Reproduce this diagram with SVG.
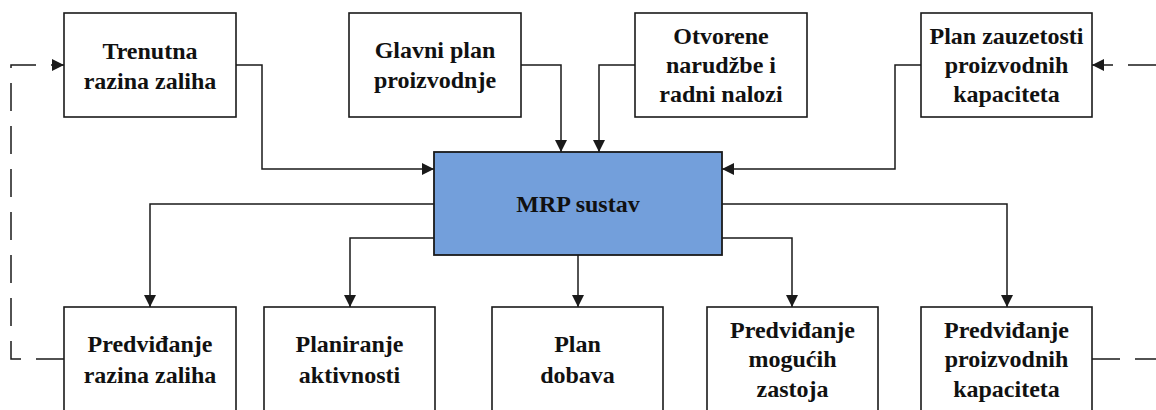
<svg xmlns="http://www.w3.org/2000/svg" width="1156" height="410" viewBox="0 0 1156 410">
<style>
.box{fill:#fff;stroke:#1a1a1a;stroke-width:1.6}
.core{fill:#739fdb;stroke:#1a1a1a;stroke-width:1.8}
.t{font-family:"Liberation Serif","Times New Roman",serif;font-weight:bold;font-size:24px;fill:#111;text-anchor:middle}
.c{fill:none;stroke:#1a1a1a;stroke-width:1.5}
.d{fill:none;stroke:#1a1a1a;stroke-width:1.5;stroke-dasharray:28 15}
</style>
<defs>
<marker id="ah" markerUnits="userSpaceOnUse" markerWidth="12" markerHeight="12" refX="12" refY="6" orient="auto">
<path d="M0,0 L12,6 L0,12 z" fill="#1a1a1a"/>
</marker>
</defs>
<rect width="1156" height="410" fill="#fff"/>
<g id="connectors">
<path class="c" d="M236,65 H262 V169 H434" marker-end="url(#ah)"/>
<path class="c" d="M521,65 H561 V152" marker-end="url(#ah)"/>
<path class="c" d="M635,65 H599 V152" marker-end="url(#ah)"/>
<path class="c" d="M921,65 H895 V169 H722" marker-end="url(#ah)"/>
<path class="c" d="M434,204 H150 V307" marker-end="url(#ah)"/>
<path class="c" d="M434,238 H350 V307" marker-end="url(#ah)"/>
<path class="c" d="M578,255 V307" marker-end="url(#ah)"/>
<path class="c" d="M722,238 H792 V307" marker-end="url(#ah)"/>
<path class="c" d="M722,204 H1007 V307" marker-end="url(#ah)"/>
<path class="d" d="M64,359 H11 V65 H64" marker-end="url(#ah)"/>
<path class="d" d="M1156,65 H1092" marker-end="url(#ah)"/>
<path class="d" d="M1092,359 H1156"/>
</g>
<g id="n-trenutna">
<rect class="box" x="64" y="13" width="172" height="104"/>
<text class="t"><tspan x="150" y="59">Trenutna</tspan><tspan x="150" y="89">razina zaliha</tspan></text>
</g>
<g id="n-glavni">
<rect class="box" x="349" y="13" width="172" height="104"/>
<text class="t"><tspan x="435" y="58">Glavni plan</tspan><tspan x="435" y="88">proizvodnje</tspan></text>
</g>
<g id="n-otvorene">
<rect class="box" x="635" y="13" width="172" height="104"/>
<text class="t"><tspan x="721" y="44">Otvorene</tspan><tspan x="721" y="73">narudžbe i</tspan><tspan x="721" y="102">radni nalozi</tspan></text>
</g>
<g id="n-plan-zauzetosti">
<rect class="box" x="921" y="13" width="171" height="104"/>
<text class="t"><tspan x="1006.5" y="44">Plan zauzetosti</tspan><tspan x="1006.5" y="73">proizvodnih</tspan><tspan x="1006.5" y="102">kapaciteta</tspan></text>
</g>
<g id="n-mrp">
<rect class="core" x="434" y="152" width="288" height="103"/>
<text class="t" x="578" y="212">MRP sustav</text>
</g>
<g id="n-pred-zaliha">
<rect class="box" x="64" y="307" width="172" height="120"/>
<text class="t"><tspan x="150" y="352">Predviđanje</tspan><tspan x="150" y="383">razina zaliha</tspan></text>
</g>
<g id="n-planiranje">
<rect class="box" x="264" y="307" width="171" height="120"/>
<text class="t"><tspan x="349.5" y="352">Planiranje</tspan><tspan x="349.5" y="383">aktivnosti</tspan></text>
</g>
<g id="n-plan-dobava">
<rect class="box" x="492" y="307" width="171" height="120"/>
<text class="t"><tspan x="577.5" y="352">Plan</tspan><tspan x="577.5" y="383">dobava</tspan></text>
</g>
<g id="n-pred-zastoja">
<rect class="box" x="707" y="307" width="171" height="120"/>
<text class="t"><tspan x="792.5" y="338">Predviđanje</tspan><tspan x="792.5" y="367">mogućih</tspan><tspan x="792.5" y="397">zastoja</tspan></text>
</g>
<g id="n-pred-kapaciteta">
<rect class="box" x="921" y="307" width="171" height="120"/>
<text class="t"><tspan x="1006.5" y="338">Predviđanje</tspan><tspan x="1006.5" y="367">proizvodnih</tspan><tspan x="1006.5" y="397">kapaciteta</tspan></text>
</g>
</svg>
